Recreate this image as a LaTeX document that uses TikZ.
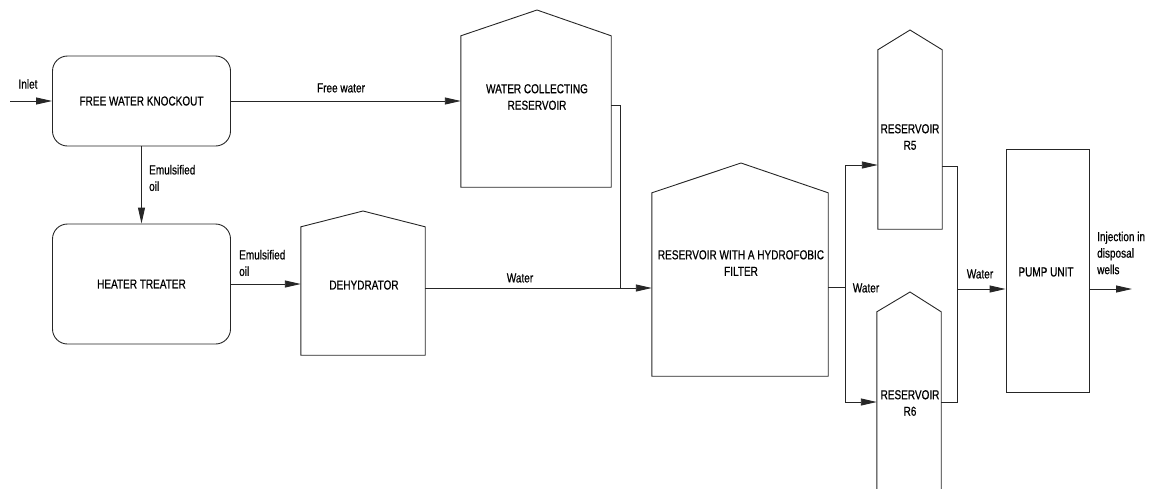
\documentclass[tikz,border=0pt]{standalone}
\usepackage{fontspec}
\setmainfont[FakeStretch=0.77,FakeBold=0.6]{Liberation Sans}
\usetikzlibrary{arrows.meta,calc}
\tikzset{
  ln/.style={line width=0.9pt, draw=black!85},
  arr/.style={ln, -{Triangle[length=16pt,width=7pt]}},
  rbox/.style={ln, rounded corners=15pt, inner sep=0pt, align=center},
  body/.style={draw=none, inner sep=0pt},
  pumpbox/.style={ln, inner sep=0pt, align=center},
  lbl/.style={inner sep=0pt, align=center, font=\fontsize{13}{16.5}\selectfont},
  lbll/.style={inner sep=0pt, align=left, anchor=west, font=\fontsize{13}{16.5}\selectfont},
}
\begin{document}
\begin{tikzpicture}[x=1pt,y=-1pt, font=\fontsize{13}{16.5}\selectfont]
\useasboundingbox (0,0) rectangle (1155,488);
% process boxes
\node[rbox, minimum width=178pt, minimum height=90pt] (fwko) at (141.5,101) {FREE WATER KNOCKOUT};
\node[rbox, minimum width=178pt, minimum height=120pt] (heater) at (141.5,284) {HEATER TREATER};
\node[pumpbox, minimum width=83pt, minimum height=243pt] (pump) at (1047.5,270.5) {};
% tank bodies and roofs
\node[body, minimum width=124pt, minimum height=128pt] (dehyd) at (363,291) {};
\coordinate (dehydtop) at (363,211);
\draw[ln] (dehyd.south west) -- (dehyd.north west) -- (dehydtop) -- (dehyd.north east) -- (dehyd.south east) -- cycle;
\node[body, minimum width=150pt, minimum height=151pt] (wcr) at (536,111.5) {};
\coordinate (wcrtop) at (537,10);
\draw[ln] (wcr.south west) -- (wcr.north west) -- (wcrtop) -- (wcr.north east) -- (wcr.south east) -- cycle;
\node[body, minimum width=176pt, minimum height=183pt] (hyd) at (740,284.5) {};
\coordinate (hydtop) at (741,163);
\draw[ln] (hyd.south west) -- (hyd.north west) -- (hydtop) -- (hyd.north east) -- (hyd.south east) -- cycle;
\node[body, minimum width=64pt, minimum height=179pt] (r5) at (910,139.5) {};
\coordinate (r5top) at (910,30);
\draw[ln] (r5.south west) -- (r5.north west) -- (r5top) -- (r5.north east) -- (r5.south east) -- cycle;
\node[body, minimum width=64pt, minimum height=178pt] (r6) at (909,401) {};
\coordinate (r6top) at (910,292);
\draw[ln] (r6.south west) -- (r6.north west) -- (r6top) -- (r6.north east) -- (r6.south east);
% texts
\node[lbl] (tinlet) at (28,84) {Inlet};
\node[lbl] (tfree) at (341,88) {Free water};
\node[lbll] (temul1) at (149,178) {Emulsified\\oil};
\node[lbll] (temul2) at (239,263) {Emulsified\\oil};
\node[lbl] (tdehyd) at (364,285) {DEHYDRATOR};
\node[lbl] (twater1) at (520,278) {Water};
\node[lbl] (twcr) at (537,97) {WATER COLLECTING\\RESERVOIR};
\node[lbl] (thyd) at (741,263) {RESERVOIR WITH A HYDROFOBIC\\FILTER};
\node[lbl] (twater2) at (866,288) {Water};
\node[lbl] (tr5) at (910,137) {RESERVOIR\\R5};
\node[lbl] (tr6) at (910,403) {RESERVOIR\\R6};
\node[lbl] (twater3) at (980,274) {Water};
\node[lbl] (tpump) at (1046,272) {PUMP UNIT};
\node[lbll] (tinj) at (1097,253) {Injection in\\disposal\\wells};
% connection points
\coordinate (inlet) at (10,101);
\coordinate (wcrout) at (wcr.east |- 0,105);
\coordinate (wj) at (620,288);
\coordinate (split) at (845,287);
\coordinate (r5in) at (r5.west |- 0,165);
\coordinate (r6in) at (r6.west |- 0,402);
\coordinate (r5out) at (r5.east |- 0,166);
\coordinate (r6out) at (r6.east |- 0,402);
\coordinate (coll) at (957,289);
\coordinate (inj) at (1132,289);
% connectors
\draw[arr] (inlet) -- (inlet -| fwko.west);
\draw[arr] (fwko.east) -- (fwko.east -| wcr.west);
\draw[arr] (fwko.south) -- (heater.north);
\draw[arr] (heater.east) -- (heater.east -| dehyd.west);
\draw[arr] (dehyd.east |- wj) -- (wj -| hyd.west);
\draw[ln] (wcrout) -| (wj);
\draw[ln] (hyd.east |- split) -- (split);
\draw[arr] (split) |- (r5in);
\draw[arr] (split) |- (r6in);
\draw[ln] (r5out) -| (coll);
\draw[ln] (r6out) -| (coll);
\draw[arr] (coll) -- (coll -| pump.west);
\draw[arr] (pump.east |- coll) -- (inj);
\end{tikzpicture}
\end{document}
